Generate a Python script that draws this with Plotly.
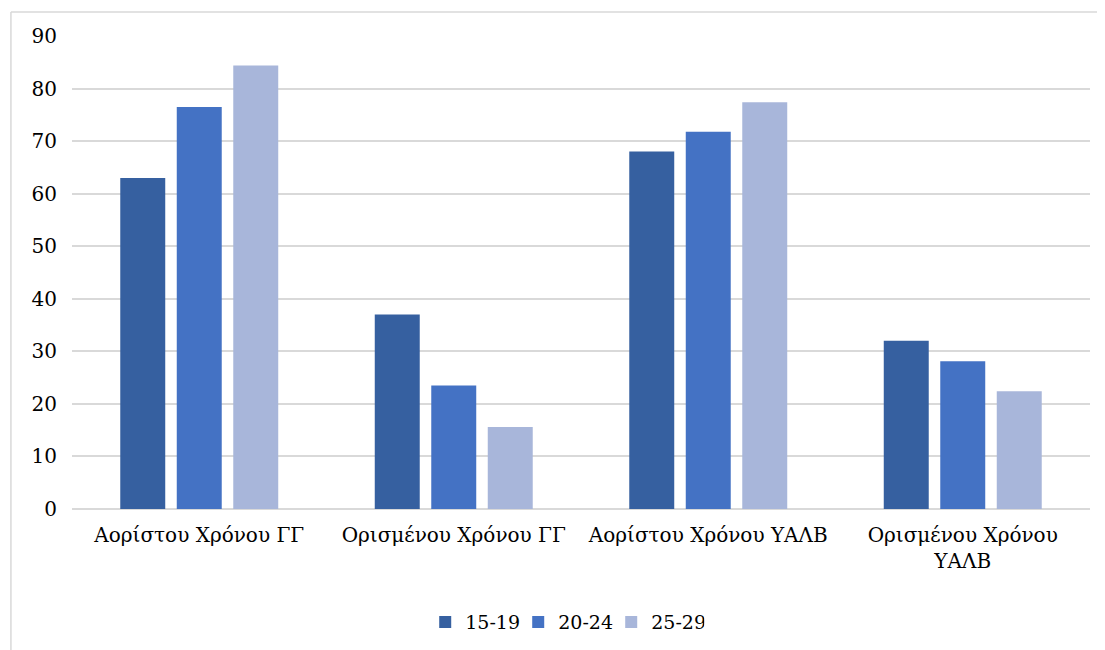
import plotly.graph_objects as go

categories = ["Αορίστου Χρόνου ΓΓ", "Ορισμένου Χρόνου ΓΓ", "Αορίστου Χρόνου ΥΑΛΒ", "Ορισμένου Χρόνου<br>ΥΑΛΒ"]
series_names = ["15-19", "20-24", "25-29"]
values_15_19 = [63.0, 37.0, 68.0, 32.0]
values_20_24 = [76.5, 23.5, 71.8, 28.1]
values_25_29 = [84.4, 15.6, 77.4, 22.4]
colors = ["#3660A0", "#4472C4", "#A8B6DA"]
y_ticks = [0, 10, 20, 30, 40, 50, 60, 70, 80, 90]

FONT = "DejaVu Serif"

fig = go.Figure()
for name, vals, col in zip(series_names, [values_15_19, values_20_24, values_25_29], colors):
    fig.add_trace(go.Bar(x=categories, y=vals, name=name, marker=dict(color=col, line=dict(width=0))))

fig.update_layout(
    width=1105, height=650,
    margin=dict(l=64, r=23, t=28, b=149),
    paper_bgcolor="white", plot_bgcolor="white",
    barmode="group", bargap=0.334, bargroupgap=0.204,
    font=dict(family=FONT, size=20, color="#000000"),
    showlegend=True,
    legend=dict(orientation="h", x=0.484, xanchor="center", y=-0.239, yanchor="middle",
                font=dict(family=FONT, size=19), itemwidth=30, traceorder="normal",
                entrywidth=48, entrywidthmode="pixels"),
    shapes=[
        dict(type="line", xref="paper", yref="paper", x0=-0.06, x1=1.05, y0=1.051, y1=1.051,
             line=dict(color="#D9D9D9", width=1.5)),
        dict(type="line", xref="paper", yref="paper", x0=-0.06, x1=-0.06, y0=1.051, y1=-0.35,
             line=dict(color="#D9D9D9", width=1.5)),
    ],
)
fig.update_yaxes(range=[0, 90], tickvals=y_ticks, showgrid=True, gridcolor="#D9D9D9", gridwidth=1.5,
                 zeroline=True, zerolinecolor="#D9D9D9", zerolinewidth=1.5, showline=False,
                 ticks="", ticklabelstandoff=14, tickfont=dict(family=FONT, size=20))
fig.update_xaxes(showgrid=False, showline=False, ticks="", ticklabelstandoff=12,
                 tickfont=dict(family=FONT, size=20), tickangle=0)

fig.write_html("out.html")
